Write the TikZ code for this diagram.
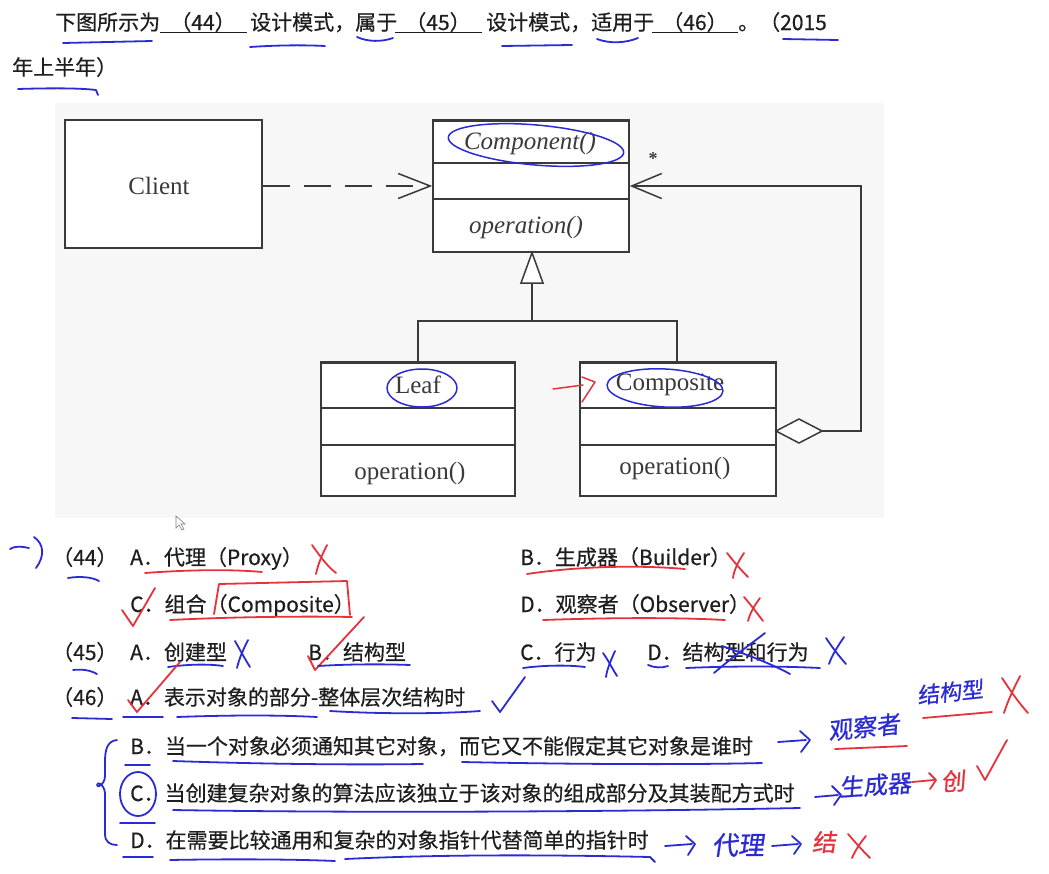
\documentclass[tikz,border=0pt]{standalone}
\usepackage{fontspec}
\newfontfamily\cjk[FakeBold=0.5]{Noto Sans CJK SC}
\newfontfamily\handf[FakeSlant=0.15,FakeBold=0.8]{Noto Sans CJK SC}
\newfontfamily\tms{Liberation Serif}
\usetikzlibrary{arrows.meta}
\definecolor{ink}{HTML}{1E1E1E}
\definecolor{pen}{HTML}{2B2BD6}
\definecolor{redpen}{HTML}{E5323B}
\definecolor{uml}{HTML}{3A3A3A}
\definecolor{bgpanel}{HTML}{F7F7F7}
\begin{document}
\begin{tikzpicture}[x=1pt,y=-1pt,
  txt/.style={anchor=base west,inner sep=0,font=\cjk\fontsize{21}{21}\selectfont,text=ink},
  ctxt/.style={anchor=base,inner sep=0,font=\cjk\fontsize{21}{21}\selectfont,text=ink},
  umlbox/.style={draw=uml,line width=1.5pt,fill=white,inner sep=0,rectangle},
  umltxt/.style={inner sep=0,font=\tms\fontsize{25}{25}\selectfont,text=uml},
  umlital/.style={inner sep=0,font=\tms\itshape\fontsize{25}{25}\selectfont,text=uml},
  umlline/.style={draw=uml,line width=1.5pt},
  bh/.style={draw=pen,line width=1.8pt,line cap=round,line join=round},
  rh/.style={draw=redpen,line width=1.8pt,line cap=round,line join=round},
  bword/.style={inner sep=0,font=\handf\fontsize{24}{24}\selectfont,text=pen},
  rword/.style={inner sep=0,font=\handf\fontsize{24}{24}\selectfont,text=redpen}]
\useasboundingbox (0,0) rectangle (1049,873);
\fill[white] (0,0) rectangle (1049,873);
% ---------- question text ----------
\node[txt] (q1) at (55,30) {下图所示为};
\node[txt] (q2) at (250,30) {设计模式，属于};
\node[txt] (q3) at (486,30) {设计模式，适用于};
\node[txt] (q4) at (738,30) {。（2015};
\node[txt] (q5) at (12,75) {年上半年）};
\node[ctxt] (b44) at (203,30) {（44）};
\node[ctxt] (b45) at (438,30) {（45）};
\node[ctxt] (b46) at (695,30) {（46）};
\draw[ink,line width=1.2pt] (160,32.5) -- (247,32.5) (395,32.5) -- (482,32.5) (652,32.5) -- (738,32.5);
% ---------- diagram ----------
\fill[bgpanel] (55,103) rectangle (884,518);
\node[umlbox,minimum width=197pt,minimum height=128pt] (client) at (163.5,184) {};
\node[umltxt] (clientt) at (159,186) {Client};
\node[umlbox,minimum width=196pt,minimum height=132pt] (comp) at (531,186) {};
\draw[umlline] (433,163) -- (629,163) (433,199) -- (629,199);
\draw[uml,line width=2.6pt] (433,120.5) -- (629,120.5);
\node[umlital] (compt) at (530,143) {Component()};
\node[umlital] (compo) at (526,227) {operation()};
\node[umlbox,minimum width=194pt,minimum height=134pt] (leaf) at (418,429) {};
\draw[umlline] (321,408) -- (515,408) (321,445) -- (515,445);
\draw[uml,line width=2.6pt] (321,362.5) -- (515,362.5);
\node[umltxt] (leaft) at (418,385) {Leaf};
\node[umltxt] (leafo) at (410,473) {operation()};
\node[umlbox,minimum width=196pt,minimum height=134pt] (compos) at (678,429) {};
\draw[umlline] (580,408) -- (776,408) (580,445) -- (776,445);
\draw[uml,line width=2.6pt] (580,362.5) -- (776,362.5);
\node[umltxt] (compost) at (670,385) {Composite};
\node[umltxt] (composo) at (675,468) {operation()};
% dependency Client -> Component
\draw[umlline,dash pattern=on 27pt off 14pt,-{Straight Barb[length=32pt,width=25pt,line width=1.5pt]}] (client.east |- 0,186) -- (comp.west |- 0,186);
% generalisation
\coordinate (tribase) at (532,283);
\coordinate (junc) at (532,321);
\draw[umlline,fill=white,line join=miter] (comp.south -| 532,0) -- (543,283) -- (521,283) -- cycle;
\draw[umlline] (tribase) -- (junc);
\draw[umlline] (leaf.north) |- (junc) -| (677,362);
% aggregation
\coordinate (dl) at (776,431);
\coordinate (corner) at (861,431);
\draw[umlline,fill=white] (dl) -- (799,419) -- (822,431) -- (799,443) -- cycle;
\draw[umlline,-{Straight Barb[length=30pt,width=25pt,line width=1.5pt]}] (822,431) -- (corner) |- (comp.east |- 0,186);
\node[inner sep=0,font=\tms\bfseries\fontsize{18}{18}\selectfont,text=uml] (star) at (653,159) {*};
% cursor
\draw[gray,line width=0.6pt,fill=white] (176,516) -- (176,528) -- (179,525) -- (182,530) -- (184,529) -- (181,524) -- (185,524) -- cycle;
% annotations on diagram
\draw[bh,line width=1.5pt,rotate around={-5:(536,145)}] (536,145) ellipse [x radius=88, y radius=20];
\draw[bh,line width=1.5pt] (422,388) ellipse [x radius=35, y radius=19];
\draw[bh,line width=1.5pt,rotate around={-3:(665,388)}] (665,388) ellipse [x radius=58, y radius=19];
\draw[rh,line width=1.5pt] (553,389) -- (583,385);
\draw[rh,line width=1.5pt] (582,377) -- (595,382) -- (582,402);
% ---------- options ----------
\node[txt] (n44) at (52,565) {（44）};
\node[txt] (o44a) at (130,565) {A．代理（Proxy）};
\node[txt] (o44b) at (520,565) {B．生成器（Builder）};
\node[txt] (o44c) at (130,612) {C．组合（Composite）};
\node[txt] (o44d) at (520,612) {D．观察者（Observer）};
\node[txt] (n45) at (52,660) {（45）};
\node[txt] (o45a) at (130,660) {A．创建型};
\node[txt] (o45b) at (308,660) {B．结构型};
\node[txt] (o45c) at (520,660) {C．行为};
\node[txt] (o45d) at (647,660) {D．结构型和行为};
\node[txt] (n46) at (52,705) {（46）};
\node[txt] (o46a) at (130,705) {A．表示对象的部分-整体层次结构时};
\node[txt] (o46b) at (130,754) {B．当一个对象必须通知其它对象，而它又不能假定其它对象是谁时};
\node[txt] (o46c) at (130,801) {C．当创建复杂对象的算法应该独立于该对象的组成部分及其装配方式时};
\node[txt] (o46d) at (130,848) {D．在需要比较通用和复杂的对象指针代替简单的指针时};
% ---------- blue underlines in question ----------
\draw[bh] (63,43) -- (152,41);
\draw[bh] (250,47) .. controls (280,45) and (305,45) .. (325,46);
\draw[bh] (357,37) .. controls (368,42) and (382,42) .. (393,38);
\draw[bh] (502,46) -- (572,45);
\draw[bh] (597,39) .. controls (610,44) and (626,43) .. (638,38);
\draw[bh] (783,39) -- (838,40);
\draw[bh] (18,89) .. controls (50,88) and (80,88) .. (96,90) -- (98,95);
% ---------- marks row 44 ----------
\draw[bh] (10,549) .. controls (17,545) and (23,547) .. (29,548);
\draw[bh] (34,537) .. controls (44,544) and (45,556) .. (36,568);
\draw[bh] (68,578) .. controls (80,576) and (92,577) .. (99,581);
\draw[rh] (145,573) .. controls (185,570) and (230,569) .. (262,572);
\draw[rh] (312,545) .. controls (320,556) and (326,565) .. (336,573);
\draw[rh] (327,545) .. controls (322,555) and (318,564) .. (316,574);
\draw[rh] (527,574) .. controls (580,566) and (640,565) .. (685,569);
\draw[rh] (727,553) .. controls (735,563) and (741,570) .. (748,577);
\draw[rh] (744,553) .. controls (738,562) and (734,570) .. (733,578);
% row C/D of 44
\draw[rh] (122,610) -- (133,626) -- (155,588);
\draw[rh] (170,620) .. controls (230,617) and (300,616) .. (352,617);
\draw[rh] (214,614) -- (219,584) -- (347,581) -- (350,615);
\draw[rh] (543,620) .. controls (600,618) and (670,617) .. (725,620);
\draw[rh] (744,597) .. controls (751,605) and (757,613) .. (763,621);
\draw[rh] (760,598) .. controls (754,606) and (750,613) .. (748,621);
% ---------- marks row 45 ----------
\draw[bh] (73,670) .. controls (82,669) and (90,670) .. (97,674);
\draw[bh] (168,667) .. controls (190,664) and (210,664) .. (223,666);
\draw[bh] (235,641) .. controls (240,650) and (245,659) .. (250,667);
\draw[bh] (248,640) .. controls (243,650) and (239,659) .. (237,668);
\draw[rh] (308,656) -- (315,670) -- (364,617);
\draw[bh] (318,666) .. controls (350,664) and (385,664) .. (410,665);
\draw[bh] (523,668) .. controls (545,665) and (570,665) .. (585,667);
\draw[bh] (603,653) .. controls (608,660) and (612,668) .. (617,676);
\draw[bh] (615,651) .. controls (611,660) and (607,669) .. (606,677);
\draw[bh] (648,665) .. controls (655,668) and (662,668) .. (668,666);
\draw[bh] (686,668) .. controls (730,666) and (780,666) .. (820,668);
\draw[bh] (714,673) .. controls (735,655) and (752,643) .. (765,633);
\draw[bh] (722,646) .. controls (745,654) and (770,663) .. (790,674);
\draw[bh] (826,638) .. controls (832,647) and (838,655) .. (846,664);
\draw[bh] (844,637) .. controls (838,646) and (832,655) .. (829,664);
% ---------- marks row 46 ----------
\draw[rh] (128,700) -- (137,712) -- (180,662);
\draw[bh] (72,718) -- (112,719);
\draw[bh] (123,717) -- (163,717);
\draw[bh] (177,717) .. controls (230,715) and (280,715) .. (317,717);
\draw[bh] (330,711) .. controls (380,714) and (440,714) .. (480,711);
\draw[bh] (492,701) -- (500,712) -- (525,677);
% brace
\draw[bh] (117,740) .. controls (107,741) and (105,750) .. (105,762) -- (105,776) .. controls (105,784) and (97,789) .. (97,785) .. controls (97,781) and (104,784) .. (105,793) -- (105,834) .. controls (105,842) and (110,845) .. (117,845);
% row B
\draw[bh] (125,765) -- (150,765);
\draw[bh] (173,761) .. controls (260,764) and (350,765) .. (423,764);
\draw[bh] (462,762) .. controls (560,764) and (680,765) .. (762,763);
\draw[bh] (778,742) -- (806,740);
\draw[bh] (800,731) -- (810,740) -- (801,752);
\node[bword,rotate=6] (hobs) at (864,727) {观察者};
\draw[rh] (835,749) -- (907,746);
\node[bword,font=\handf\fontsize{22}{22}\selectfont,rotate=6] (hstr) at (950,692) {结构型};
\draw[rh] (923,718) -- (992,712);
\draw[rh] (1002,678) .. controls (1010,690) and (1018,702) .. (1028,713);
\draw[rh] (1020,676) .. controls (1014,688) and (1008,700) .. (1004,713);
% row C
\draw[bh] (138,794) ellipse [x radius=18, y radius=22];
\draw[bh] (120,823) -- (155,823);
\draw[bh] (173,810) .. controls (350,813) and (600,812) .. (800,808);
\draw[bh] (815,797) -- (838,795);
\draw[bh] (832,786) -- (841,795) -- (834,805);
\node[bword,font=\handf\fontsize{24}{24}\selectfont,rotate=4] (hbld) at (875,785) {生成器};
\draw[rh] (912,782) -- (934,780);
\draw[rh] (929,773) -- (936,780) -- (930,789);
\node[rword,rotate=4] (hcre) at (953,781) {创};
\draw[rh] (977,766) -- (985,780) -- (1007,740);
% row D
\draw[bh] (123,857) -- (153,857);
\draw[bh] (170,860) .. controls (220,859) and (290,859) .. (335,861);
\draw[bh] (345,859) .. controls (450,854) and (560,855) .. (650,857) -- (655,862);
\draw[bh] (665,846) -- (692,844);
\draw[bh] (686,836) -- (695,844) -- (688,855);
\node[bword,font=\handf\fontsize{26}{26}\selectfont] (hprx) at (738,845) {代理};
\draw[bh] (772,846) -- (798,844);
\draw[bh] (792,836) -- (801,844) -- (794,854);
\node[rword] (hstr2) at (824,842) {结};
\draw[rh] (848,834) .. controls (855,842) and (862,850) .. (870,858);
\draw[rh] (866,836) .. controls (860,843) and (855,851) .. (852,858);
\end{tikzpicture}
\end{document}
